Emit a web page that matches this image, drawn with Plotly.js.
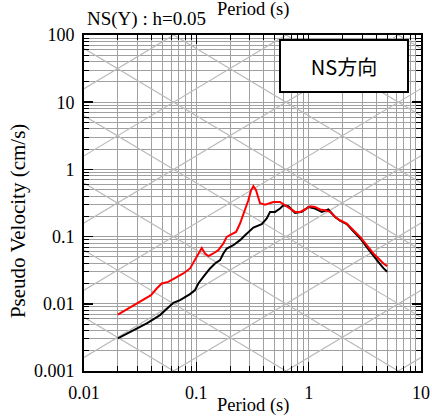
<!DOCTYPE html>
<html>
<head>
<meta charset="utf-8">
<script src="https://cdn.plot.ly/plotly-3.0.1.min.js"></script>
<style>html,body{margin:0;padding:0;background:#fff;}#chart{width:432px;height:418px;}</style>
</head>
<body>
<div id="chart"></div>
<script>
// ---- data (Period in s, Pseudo velocity in cm/s) ----
const periodRed = [0.02, 0.0395, 0.0444, 0.0492, 0.0563, 0.0669, 0.0766, 0.0879, 0.0973, 0.1042, 0.1117, 0.1195, 0.1279, 0.1417, 0.157, 0.174, 0.1865, 0.2066, 0.2257, 0.2449, 0.2715, 0.2904, 0.307, 0.322, 0.340, 0.369, 0.409, 0.485, 0.556, 0.616, 0.683, 0.757, 0.838, 0.929, 1.029, 1.14, 1.263, 1.40, 1.551, 1.719, 1.904, 2.184, 2.50, 2.87, 3.29, 3.77, 4.18, 4.63, 5.0];
const velRed = [0.0069, 0.01346, 0.0169, 0.0201, 0.0212, 0.0252, 0.0283, 0.0336, 0.0446, 0.0561, 0.0679, 0.0561, 0.0512, 0.0561, 0.0628, 0.0789, 0.099, 0.1086, 0.1174, 0.1566, 0.2466, 0.3475, 0.489, 0.561, 0.489, 0.313, 0.298, 0.328, 0.328, 0.293, 0.262, 0.233, 0.233, 0.253, 0.283, 0.276, 0.253, 0.247, 0.233, 0.196, 0.175, 0.1566, 0.1245, 0.099, 0.0745, 0.0561, 0.0473, 0.0398, 0.0363];
const periodBlack = [0.02, 0.0275, 0.0362, 0.0475, 0.0624, 0.0716, 0.0879, 0.0973, 0.1042, 0.1154, 0.1324, 0.1467, 0.1626, 0.174, 0.1865, 0.2135, 0.2449, 0.2715, 0.322, 0.382, 0.4235, 0.453, 0.502, 0.556, 0.595, 0.659, 0.757, 0.868, 0.994, 1.14, 1.308, 1.497, 1.719, 1.904, 2.184, 2.50, 2.87, 3.29, 3.77, 4.18, 4.63, 5.0];
const velBlack = [0.00306, 0.00407, 0.00512, 0.00679, 0.01035, 0.01135, 0.01393, 0.016, 0.0201, 0.0252, 0.0336, 0.0398, 0.0446, 0.0561, 0.0665, 0.0745, 0.0885, 0.105, 0.1365, 0.153, 0.186, 0.233, 0.233, 0.262, 0.293, 0.283, 0.225, 0.233, 0.276, 0.262, 0.233, 0.253, 0.196, 0.172, 0.153, 0.120, 0.0946, 0.0695, 0.0512, 0.0417, 0.0339, 0.0299];

// band of periods highlighted
const bandPeriods = [0.1, 0.2];

// tripartite grid levels: displacement (cm) and acceleration (cm/s^2)
const dispLevels = [1e-5, 1e-4, 1e-3, 1e-2, 1e-1, 1, 10, 100];
const accLevels = [1e-3, 1e-2, 1e-1, 1, 10, 100, 1e3, 1e4, 1e5];

// ticks
const xTickVals = [0.01, 0.1, 1, 10];
const xTickText = ['0.01', '0.1', '1', '10'];
const yTickVals = [0.001, 0.01, 0.1, 1, 10, 100];
const yTickText = ['0.001', '0.01', '0.1', '1', '10', '100'];

const xRange = [0.01, 10];
const yRange = [0.001, 100];

function minorVals(lo, hi) {
  const out = [];
  for (let e = Math.round(Math.log10(lo)); e < Math.round(Math.log10(hi)); e++) {
    for (let m = 2; m <= 9; m++) out.push(m * Math.pow(10, e));
  }
  return out;
}

const traces = [];
const diagColor = '#bababa';
dispLevels.forEach(d => {
  traces.push({x: xRange, y: xRange.map(T => 2 * Math.PI * d / T), mode: 'lines',
    line: {color: diagColor, width: 1.2}, hoverinfo: 'skip', showlegend: false});
});
accLevels.forEach(a => {
  traces.push({x: xRange, y: xRange.map(T => a * T / (2 * Math.PI)), mode: 'lines',
    line: {color: diagColor, width: 1.2}, hoverinfo: 'skip', showlegend: false});
});
traces.push({x: periodBlack, y: velBlack, mode: 'lines', line: {color: '#000000', width: 2}, showlegend: false});
traces.push({x: periodRed, y: velRed, mode: 'lines', line: {color: '#ff0000', width: 2}, showlegend: false});

const serif = 'Liberation Serif';
const gridColor = '#a0a0a0';

function axis(range, tv, tt, minor) {
  return {
    type: 'log',
    range: range.map(Math.log10),
    tickmode: 'array', tickvals: tv, ticktext: tt,
    ticks: 'inside', ticklen: 9, tickwidth: 1.5, tickcolor: '#000',
    showline: true, linewidth: 2, linecolor: '#000', mirror: 'allticks',
    showgrid: true, gridcolor: gridColor, gridwidth: 1,
    zeroline: false,
    tickfont: {family: serif, size: 18, color: '#000'},
    ticklabelstandoff: 4,
    minor: {tickmode: 'array', tickvals: minor, ticks: 'inside', ticklen: 5, tickwidth: 1, tickcolor: '#000',
      showgrid: true, gridcolor: gridColor, gridwidth: 1},
    fixedrange: true
  };
}

const layout = {
  width: 432, height: 418,
  margin: {l: 84, r: 11, t: 35, b: 47},
  paper_bgcolor: '#fff', plot_bgcolor: '#fff',
  font: {family: serif, color: '#000'},
  xaxis: axis(xRange, xTickVals, xTickText, minorVals(xRange[0], xRange[1])),
  yaxis: axis(yRange, yTickVals, yTickText, minorVals(yRange[0], yRange[1])),
  shapes: [{type: 'rect', xref: 'x', yref: 'paper', x0: Math.log10(bandPeriods[0]), x1: Math.log10(bandPeriods[1]),
    y0: 0, y1: 1, fillcolor: '#c5dcef', line: {width: 0}, layer: 'below'}],
  annotations: [
    {text: 'NS(Y) : h=0.05', xref: 'paper', yref: 'paper', x: 0.004, y: 1.047, xanchor: 'left', yanchor: 'middle',
      showarrow: false, font: {family: serif, size: 19, color: '#000'}},
    {text: 'Period (s)', xref: 'paper', yref: 'paper', x: 0.5, y: 1.076, xanchor: 'center', yanchor: 'middle',
      showarrow: false, font: {family: serif, size: 18.5, color: '#000'}},
    {text: 'Period (s)', xref: 'paper', yref: 'paper', x: 0.5, y: -0.104, xanchor: 'center', yanchor: 'middle',
      showarrow: false, font: {family: serif, size: 18.5, color: '#000'}},
    {text: 'Pseudo Velocity (cm/s)', xref: 'paper', yref: 'paper', x: -0.194, y: 0.445, xanchor: 'center', yanchor: 'middle',
      textangle: -90, showarrow: false, font: {family: serif, size: 21, color: '#000'}},
    {text: 'NS方向', xref: 'paper', yref: 'paper', x: 0.7715, y: 0.909, xanchor: 'center', yanchor: 'middle',
      showarrow: false, bgcolor: '#fff', bordercolor: '#000', borderwidth: 2, borderpad: 2, width: 122, height: 46,
      font: {family: 'Noto Sans CJK JP', size: 20, color: '#000'}}
  ]
};

Plotly.newPlot('chart', traces, layout, {staticPlot: true, displayModeBar: false});
</script>
</body>
</html>
